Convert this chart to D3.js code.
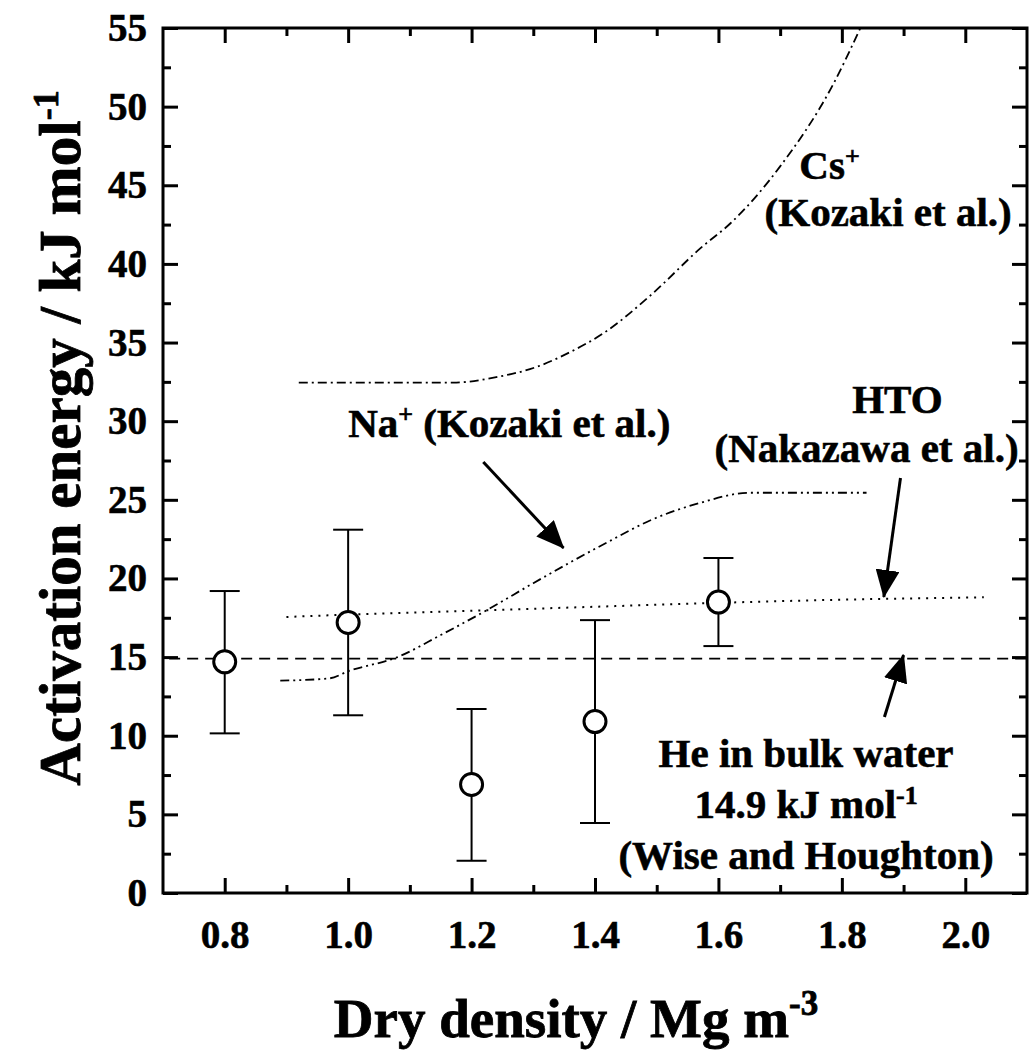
<!DOCTYPE html>
<html>
<head>
<meta charset="utf-8">
<style>
  body { margin: 0; background: #fff; }
  text { font-family: "Liberation Serif", "Times New Roman", serif; font-weight: bold; fill: #000; }
</style>
</head>
<body>
<svg width="1031" height="1050"></svg>
<script src="https://cdn.jsdelivr.net/npm/d3@7/dist/d3.min.js"></script>
<script>
// measured points (dry density vs activation energy)
var densities = [0.8, 1.0, 1.2, 1.4, 1.6];
var energies  = [14.7, 17.2, 6.9, 10.9, 18.5];
var errLow    = [10.15, 11.3, 2.05, 4.45, 15.7];
var errHigh   = [19.2, 23.1, 11.7, 17.35, 21.3];

// literature curves
var csCurve  = [[0.92, 32.45], [1.17, 32.45], [1.24, 32.8], [1.306, 33.46], [1.36, 34.4], [1.414, 35.6],
                [1.49, 38.0], [1.571, 41.0], [1.62, 42.6], [1.70, 46.2], [1.787, 51.5], [1.83, 55]];
var naCurve  = [[0.89, 13.5], [0.97, 13.65], [1.0, 14.1], [1.08, 15.0], [1.15, 16.4], [1.23, 18.1],
                [1.3, 19.7], [1.42, 22.3], [1.49, 23.7], [1.57, 24.8], [1.65, 25.45], [1.84, 25.45]];
var htoCurve = [[0.9, 17.55], [1.0, 17.7], [1.2, 17.95], [1.4, 18.2], [1.6, 18.45], [1.8, 18.65], [2.03, 18.8]];
var heValue = 14.9;

var xTicks = [0.8, 1.0, 1.2, 1.4, 1.6, 1.8, 2.0];
var yTicks = [0, 5, 10, 15, 20, 25, 30, 35, 40, 45, 50, 55];

var svg = d3.select("svg"),
    margin = {top: 28, right: 4, bottom: 157, left: 163},
    width = +svg.attr("width") - margin.left - margin.right,
    height = +svg.attr("height") - margin.top - margin.bottom;

var x = d3.scaleLinear().domain([0.7, 2.1]).range([0, width]);
var y = d3.scaleLinear().domain([0, 55]).range([height, 0]);

var defs = svg.append("defs");
defs.append("marker")
    .attr("id", "head")
    .attr("markerUnits", "userSpaceOnUse")
    .attr("viewBox", "0 0 28 24")
    .attr("refX", 27).attr("refY", 12)
    .attr("markerWidth", 28).attr("markerHeight", 24)
    .attr("orient", "auto")
    .append("path").attr("d", "M0,0 L28,12 L0,24 Z").attr("fill", "#000");

var g = svg.append("g").attr("transform", "translate(" + margin.left + "," + margin.top + ")");

// ticks inside on all four sides
var fmt = d3.format(".1f");
var minorX = [0.9, 1.1, 1.3, 1.5, 1.7, 1.9];
var minorY = d3.range(2.5, 55, 5);

g.append("g").attr("transform", "translate(0," + height + ")")
    .call(d3.axisBottom(x).tickValues(xTicks).tickFormat(fmt).tickSizeInner(-15).tickSizeOuter(0).tickPadding(27))
    .call(styleAxis);
g.append("g").attr("transform", "translate(0," + height + ")")
    .call(d3.axisBottom(x).tickValues(minorX).tickFormat("").tickSizeInner(-8).tickSizeOuter(0))
    .call(styleAxis);
g.append("g")
    .call(d3.axisTop(x).tickValues(xTicks).tickFormat("").tickSizeInner(-15).tickSizeOuter(0))
    .call(styleAxis);
g.append("g")
    .call(d3.axisTop(x).tickValues(minorX).tickFormat("").tickSizeInner(-8).tickSizeOuter(0))
    .call(styleAxis);
g.append("g")
    .call(d3.axisLeft(y).tickValues(yTicks).tickSizeInner(-15).tickSizeOuter(0).tickPadding(16))
    .call(styleAxis);
g.append("g")
    .call(d3.axisLeft(y).tickValues(minorY).tickFormat("").tickSizeInner(-8).tickSizeOuter(0))
    .call(styleAxis);
g.append("g").attr("transform", "translate(" + width + ",0)")
    .call(d3.axisRight(y).tickValues(yTicks).tickFormat("").tickSizeInner(-15).tickSizeOuter(0))
    .call(styleAxis);
g.append("g").attr("transform", "translate(" + width + ",0)")
    .call(d3.axisRight(y).tickValues(minorY).tickFormat("").tickSizeInner(-8).tickSizeOuter(0))
    .call(styleAxis);

function styleAxis(sel) {
    sel.select(".domain").remove();
    sel.selectAll(".tick line").attr("stroke", "#000").attr("stroke-width", 3);
    sel.selectAll(".tick text").attr("font-size", 39).attr("font-family", null)
        .attr("stroke", "#000").attr("stroke-width", 0.6);
}

g.append("rect")
    .attr("width", width).attr("height", height)
    .attr("fill", "none").attr("stroke", "#000").attr("stroke-width", 3);

// reference lines
var smooth = d3.line().curve(d3.curveMonotoneX).x(function (d) { return x(d[0]); }).y(function (d) { return y(d[1]); });

g.append("line")
    .attr("x1", x(0.71)).attr("x2", x(2.1))
    .attr("y1", y(heValue)).attr("y2", y(heValue))
    .attr("stroke", "#000").attr("stroke-width", 1.8)
    .style("stroke-dasharray", "11,7");

g.append("path").datum(htoCurve)
    .attr("d", smooth).attr("fill", "none")
    .attr("stroke", "#000").attr("stroke-width", 2)
    .style("stroke-dasharray", "2,6");

g.append("path").datum(naCurve)
    .attr("d", smooth).attr("fill", "none")
    .attr("stroke", "#000").attr("stroke-width", 1.8)
    .style("stroke-dasharray", "9,4,2,4,2,4");

g.append("path").datum(csCurve)
    .attr("d", smooth).attr("fill", "none")
    .attr("stroke", "#000").attr("stroke-width", 1.8)
    .style("stroke-dasharray", "9,4,2,4");

// error bars + open circles
var pts = densities.map(function (d, i) {
    return {x: d, y: energies[i], lo: errLow[i], hi: errHigh[i]};
});
var eb = g.selectAll("g.eb").data(pts).enter().append("g").attr("class", "eb")
    .attr("stroke", "#000").attr("stroke-width", 2);
eb.append("line")
    .attr("x1", function (d) { return x(d.x); }).attr("x2", function (d) { return x(d.x); })
    .attr("y1", function (d) { return y(d.lo); }).attr("y2", function (d) { return y(d.hi); });
eb.append("line")
    .attr("x1", function (d) { return x(d.x) - 15; }).attr("x2", function (d) { return x(d.x) + 15; })
    .attr("y1", function (d) { return y(d.hi); }).attr("y2", function (d) { return y(d.hi); });
eb.append("line")
    .attr("x1", function (d) { return x(d.x) - 15; }).attr("x2", function (d) { return x(d.x) + 15; })
    .attr("y1", function (d) { return y(d.lo); }).attr("y2", function (d) { return y(d.lo); });
g.selectAll("circle.pt").data(pts).enter().append("circle").attr("class", "pt")
    .attr("cx", function (d) { return x(d.x); })
    .attr("cy", function (d) { return y(d.y); })
    .attr("r", 11)
    .attr("fill", "#fff").attr("stroke", "#000").attr("stroke-width", 3);

// annotation arrows [x0, y0, x1, y1] in data units
var arrows = [[1.219, 27.4, 1.349, 21.94], [1.895, 26.39, 1.868, 18.82], [1.869, 11.19, 1.900, 15.13]];
g.selectAll("line.arrow").data(arrows).enter().append("line").attr("class", "arrow")
    .attr("x1", function (d) { return x(d[0]); }).attr("y1", function (d) { return y(d[1]); })
    .attr("x2", function (d) { return x(d[2]); }).attr("y2", function (d) { return y(d[3]); })
    .attr("stroke", "#000").attr("stroke-width", 3)
    .attr("marker-end", "url(#head)");

// labels
function label(px, py, anchor, parts) {
    var t = g.append("text").attr("x", px).attr("y", py)
        .attr("text-anchor", anchor).attr("font-size", 41)
        .attr("stroke", "#000").attr("stroke-width", 0.6);
    parts.forEach(function (p) {
        var s = t.append("tspan").text(p[0]);
        if (p[1] === "sup") s.attr("font-size", 26).attr("dy", -14);
        if (p[1] === "base") s.attr("dy", 14);
    });
    return t;
}
label(x(1.78), y(45.4), "middle", [["Cs"], ["+", "sup"]]);
label(x(1.875), y(42.4), "middle", [["(Kozaki et al.)"]]);
label(x(1.0), y(29.0), "start", [["Na"], ["+", "sup"], [" (Kozaki et al.)", "base"]]);
label(x(1.89), y(30.5), "middle", [["HTO"]]);
label(x(1.84), y(27.4), "middle", [["(Nakazawa et al.)"]]);
label(x(1.742), y(8.0), "middle", [["He in bulk water"]]);
label(x(1.742), y(4.8), "middle", [["14.9 kJ mol"], ["-1", "sup"]]);
label(x(1.742), y(1.5), "middle", [["(Wise and Houghton)"]]);

// axis titles
var xt = svg.append("text")
    .attr("x", 576).attr("y", 1037)
    .attr("text-anchor", "middle").attr("font-size", 55)
    .attr("stroke", "#000").attr("stroke-width", 0.8);
xt.append("tspan").text("Dry density / Mg m");
xt.append("tspan").text("-3").attr("font-size", 35).attr("dy", -22);

var yt = svg.append("text")
    .attr("transform", "translate(80,438) rotate(-90)")
    .attr("text-anchor", "middle").attr("font-size", 59)
    .attr("stroke", "#000").attr("stroke-width", 0.8);
yt.append("tspan").text("Activation energy / kJ mol");
yt.append("tspan").text("-1").attr("font-size", 36).attr("dy", -22);
</script>
</body>
</html>
